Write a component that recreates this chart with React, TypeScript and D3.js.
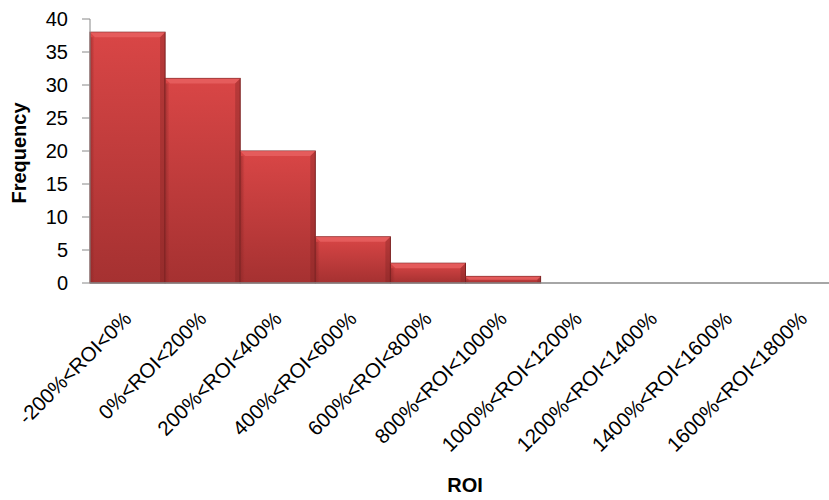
import React from "react";
import * as d3 from "d3";

const categories = [
  "-200%<ROI<0%",
  "0%<ROI<200%",
  "200%<ROI<400%",
  "400%<ROI<600%",
  "600%<ROI<800%",
  "800%<ROI<1000%",
  "1000%<ROI<1200%",
  "1200%<ROI<1400%",
  "1400%<ROI<1600%",
  "1600%<ROI<1800%",
];
const frequencies = [38, 31, 20, 7, 3, 1, 0, 0, 0, 0];
const yTicks = [0, 5, 10, 15, 20, 25, 30, 35, 40];

const W = 829;
const H = 500;
const left = 90;
const right = 841;
const top = 19;
const bottom = 283;

export default function App() {
  const x = d3.scaleBand<string>().domain(categories).range([left, right]).padding(0);
  const y = d3.scaleLinear().domain([0, 40]).range([bottom, top]);
  const bw = x.bandwidth();
  const font = "'Liberation Sans', 'DejaVu Sans', sans-serif";
  return (
    <svg width={W} height={H} style={{ position: "absolute", left: 0, top: 0, background: "#fff" }}>
      <defs>
        <linearGradient id="barGrad" x1="0" y1="0" x2="0" y2="1">
          <stop offset="0%" stopColor="#d94646" />
          <stop offset="100%" stopColor="#a53131" />
        </linearGradient>
        <linearGradient id="sideGrad" x1="0" y1="0" x2="1" y2="0">
          <stop offset="0%" stopColor="#8e2727" stopOpacity={0.6} />
          <stop offset="100%" stopColor="#8e2727" stopOpacity={0} />
        </linearGradient>
      </defs>
      {frequencies.map((v, i) => {
        if (v <= 0) return null;
        const x0 = x(categories[i])!;
        const y0 = y(v);
        const h = bottom - y0;
        const bev = Math.min(5, h / 2);
        return (
          <g key={i}>
            <rect x={x0} y={y0} width={bw} height={h} fill="url(#barGrad)" stroke="#7c2222" strokeWidth={1} />
            <polygon
              points={`${x0},${y0} ${x0 + bw},${y0} ${x0 + bw - bev},${y0 + bev} ${x0 + bev},${y0 + bev}`}
              fill="#e86262"
              opacity={0.8}
            />
            <rect x={x0 + 0.5} y={y0 + bev} width={4} height={Math.max(0, h - bev)} fill="url(#sideGrad)" />
            <polygon
              points={`${x0 + bw},${y0} ${x0 + bw},${bottom} ${x0 + bw - bev},${bottom} ${x0 + bw - bev},${y0 + bev}`}
              fill="#7c2222"
              opacity={0.35}
            />
          </g>
        );
      })}
      <line x1={left} x2={left} y1={top} y2={bottom} stroke="#888" strokeWidth={1} />
      <line x1={left} x2={right} y1={bottom} y2={bottom} stroke="#888" strokeWidth={1.5} />
      {yTicks.map((t) => (
        <g key={t}>
          <line x1={left - 8} x2={left} y1={y(t)} y2={y(t)} stroke="#888" strokeWidth={1} />
          <text x={68} y={y(t)} dy="0.35em" textAnchor="end" fontFamily={font} fontSize={20} fill="#000">
            {t}
          </text>
        </g>
      ))}
      {categories.map((c) => {
        const cx = x(c)! + bw / 2;
        const cy = 315;
        return (
          <text
            key={c}
            x={cx}
            y={cy}
            textAnchor="end"
            fontFamily={font}
            fontSize={20.5}
            fill="#000"
            transform={`rotate(-45, ${cx}, ${cy})`}
            dy="0.35em"
          >
            {c}
          </text>
        );
      })}
      <text
        x={0}
        y={0}
        transform={`translate(26, ${(top + bottom) / 2 + 2}) rotate(-90)`}
        textAnchor="middle"
        fontFamily={font}
        fontWeight="bold"
        fontSize={20}
      >
        Frequency
      </text>
      <text x={465} y={492} textAnchor="middle" fontFamily={font} fontWeight="bold" fontSize={20}>
        ROI
      </text>
    </svg>
  );
}
